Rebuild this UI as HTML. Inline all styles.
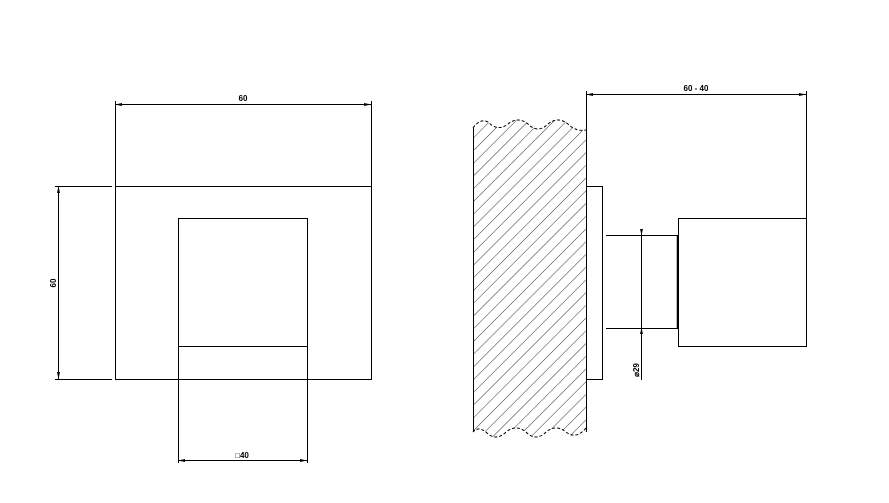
<!DOCTYPE html>
<html><head><style>body{margin:0;background:#fff}svg{display:block}text{font-family:"Liberation Sans",sans-serif;font-weight:bold;font-size:8px}</style></head>
<body>
<svg width="889" height="503" viewBox="0 0 889 503" xmlns="http://www.w3.org/2000/svg">
<defs>
<pattern id="h" patternUnits="userSpaceOnUse" width="9" height="9" patternTransform="rotate(45)">
<line x1="0" y1="0" x2="0" y2="9" stroke="#000" stroke-width="0.8"/>
</pattern>
<clipPath id="c"><path d="M473,128 Q480,118 488,122 Q498,132 508,124 Q518,116 528,124 Q538,134 548,124 Q558,116 568,124 Q576,132 586,130 L586,428 Q576,440 566,432 Q556,424 546,432 Q536,442 526,432 Q516,424 506,432 Q496,442 486,432 Q478,426 473,432 Z"/></clipPath>
</defs>
<g fill="none" stroke="#000" stroke-width="1">
<!-- left view -->
<rect x="115.5" y="186.5" width="256" height="193"/>
<rect x="178.5" y="218.5" width="129" height="128"/>
<line x1="178.5" y1="346" x2="178.5" y2="463"/>
<line x1="307.5" y1="346" x2="307.5" y2="463"/>
<line x1="178" y1="460.5" x2="307" y2="460.5"/>
<line x1="115.5" y1="101" x2="115.5" y2="186"/>
<line x1="371.5" y1="101" x2="371.5" y2="186"/>
<line x1="115" y1="104.5" x2="371" y2="104.5"/>
<line x1="55" y1="186.5" x2="112" y2="186.5"/>
<line x1="55" y1="379.5" x2="112" y2="379.5"/>
<line x1="58.5" y1="186" x2="58.5" y2="379"/>
<!-- right view -->
<rect x="473" y="115" width="114" height="330" fill="url(#h)" stroke="none" clip-path="url(#c)"/>
<path d="M473,128 Q480,118 488,122 Q498,132 508,124 Q518,116 528,124 Q538,134 548,124 Q558,116 568,124 Q576,132 586,130" stroke-dasharray="3,2"/>
<path d="M586,428 Q576,440 566,432 Q556,424 546,432 Q536,442 526,432 Q516,424 506,432 Q496,442 486,432 Q478,426 473,432" stroke-dasharray="3,2"/>
<line x1="473.5" y1="128" x2="473.5" y2="432"/>
<line x1="586.5" y1="91" x2="586.5" y2="432"/>
<rect x="586.5" y="186.5" width="16" height="193"/>
<line x1="606" y1="235.5" x2="678" y2="235.5"/>
<line x1="606" y1="328.5" x2="678" y2="328.5"/>
<line x1="677.5" y1="235" x2="677.5" y2="328" stroke-width="1.5"/>
<line x1="641.5" y1="229" x2="641.5" y2="380"/>
<rect x="678.5" y="218.5" width="128" height="128"/>
<line x1="806.5" y1="91" x2="806.5" y2="218"/>
<line x1="586" y1="94.5" x2="806" y2="94.5"/>
</g>
<g fill="#000">
<path d="M115,104.5 l7,-1.5 v3z M371,104.5 l-7,-1.5 v3z M178,460.5 l7,-1.5 v3z M307,460.5 l-7,-1.5 v3z M58.5,186 l-1.5,7 h3z M58.5,379 l-1.5,-7 h3z M586,94.5 l7,-1.5 v3z M806,94.5 l-7,-1.5 v3z M641.5,235 l-1.5,-6 h3z M641.5,328 l-1.5,6 h3z"/>
</g>
<text x="243" y="101" text-anchor="middle">60</text>
<text x="242" y="458" text-anchor="middle">□40</text>
<text transform="translate(56,283) rotate(-90)" text-anchor="middle">60</text>
<text x="696" y="91" text-anchor="middle">60 - 40</text>
<text transform="translate(639,370) rotate(-90)" text-anchor="middle">⌀29</text>
</svg>
</body></html>
